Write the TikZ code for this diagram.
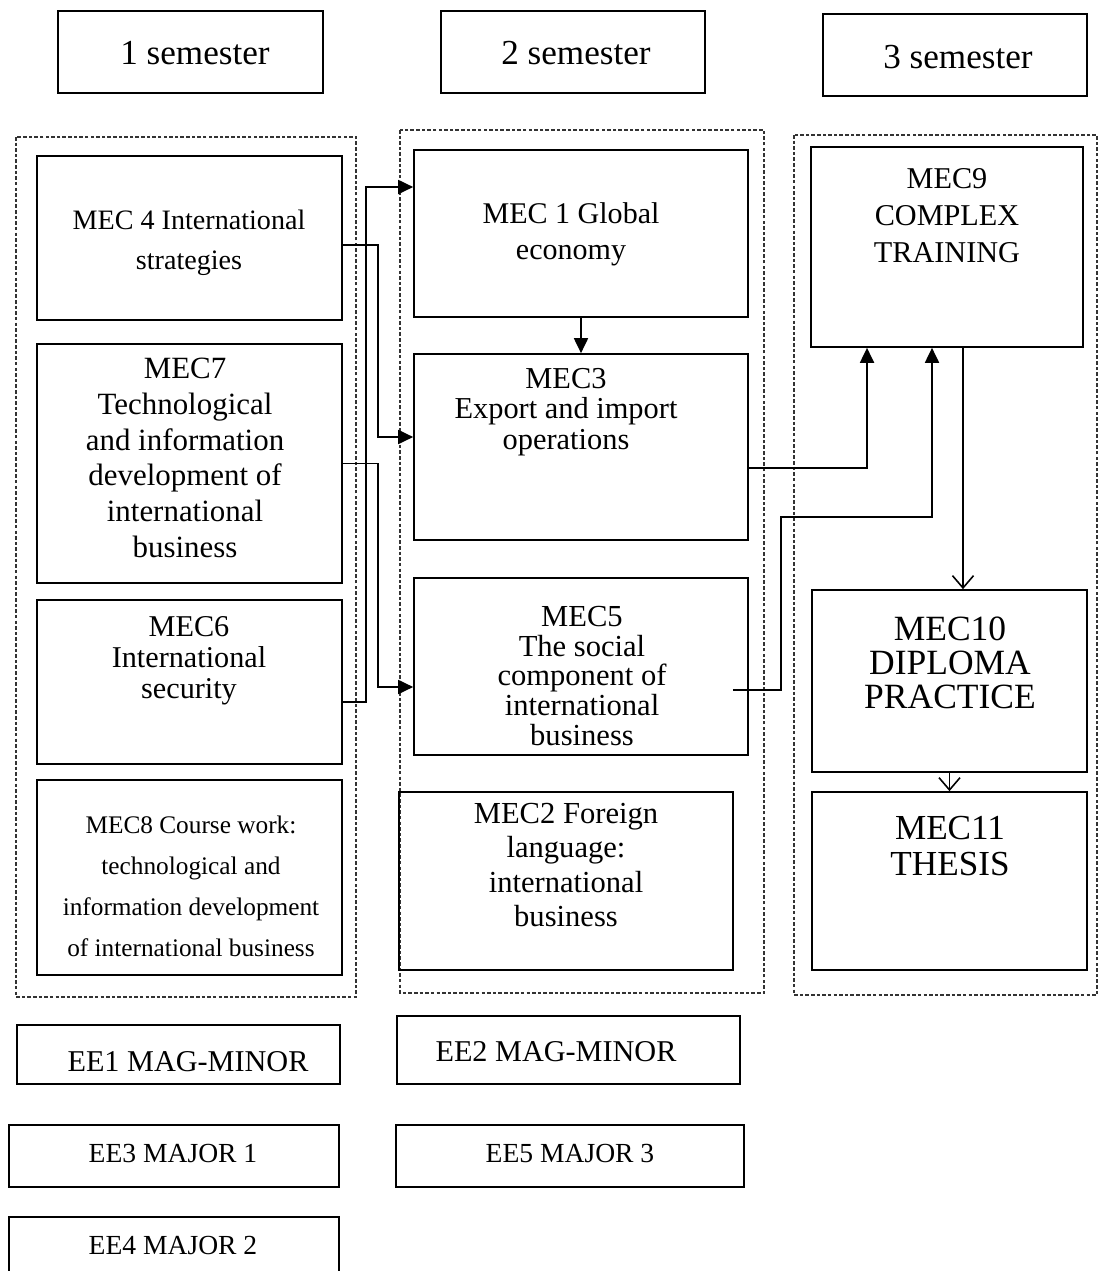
\documentclass[tikz,border=0pt]{standalone}
\usepackage{fontspec}
\setmainfont{Liberation Serif}
\usetikzlibrary{arrows.meta}
\newcommand{\fs}[2]{\fontsize{#1}{#2}\selectfont}

\tikzset{
  box/.style={draw, line width=1pt, inner sep=0pt},
  txt/.style={align=center, inner sep=0pt},
  grp/.style={draw, line width=0.8pt, dash pattern=on 2pt off 1.2pt, black!80},
  arr/.style={line width=0.9pt, -{Triangle[length=8.5pt,width=8pt]}},
  arrv/.style={line width=0.9pt, -{Straight Barb[length=7pt,width=12pt]}}
}

\begin{document}
\begin{tikzpicture}[x=0.02cm, y=-0.02cm]
\useasboundingbox (0,0) rectangle (1098,1271);

% semester headers
\node[box, minimum width=5.3cm, minimum height=1.64cm] (sem1) at (190.5,52) {};
\node[box, minimum width=5.28cm, minimum height=1.64cm] (sem2) at (573,52) {};
\node[box, minimum width=5.28cm, minimum height=1.64cm] (sem3) at (955,55) {};
\node[txt, font=\fs{20pt}{24pt}] at (195,53) {1 semester};
\node[txt, font=\fs{20pt}{24pt}] at (576,53) {2 semester};
\node[txt, font=\fs{20pt}{24pt}] at (958,57) {3 semester};

% dashed groups
\draw[grp] (16,137) rectangle (356,997);
\draw[grp] (400,130) rectangle (764,993);
\draw[grp] (794,135) rectangle (1097,995);

% first semester
\node[box, minimum width=6.1cm, minimum height=3.28cm] (mec4) at (189.5,238) {};
\node[box, minimum width=6.1cm, minimum height=4.78cm] (mec7) at (189.5,463.5) {};
\node[box, minimum width=6.1cm, minimum height=3.28cm] (mec6) at (189.5,682) {};
\node[box, minimum width=6.1cm, minimum height=3.9cm] (mec8) at (189.5,877.5) {};
\node[txt, font=\fs{16pt}{22.8pt}] (mec4t) at (189,243) {MEC 4 International\\strategies};
\node[txt, font=\fs{17.6pt}{20.3pt}] (mec7t) at (185,458) {MEC7\\Technological\\and information\\development of\\international\\business};
\node[txt, font=\fs{17.2pt}{17.6pt}] (mec6t) at (189,661) {MEC6\\International\\security};
\node[txt, font=\fs{14.4pt}{23.3pt}] (mec8t) at (191,886) {MEC8 Course work:\\technological and\\information development\\of international business};

% second semester
\node[box, minimum width=6.68cm, minimum height=3.34cm] (mec1) at (581,233.5) {};
\node[box, minimum width=6.68cm, minimum height=3.72cm] (mec3) at (581,447) {};
\node[box, minimum width=6.68cm, minimum height=3.54cm] (mec5) at (581,666.5) {};
\node[box, minimum width=6.68cm, minimum height=3.56cm] (mec2) at (566,881) {};
\node[txt, font=\fs{17.1pt}{20.5pt}] (mec1t) at (571,234) {MEC 1 Global\\economy};
\node[txt, font=\fs{17.3pt}{17.4pt}] (mec3t) at (566,412) {MEC3\\Export and import\\operations};
\node[txt, font=\fs{17.4pt}{16.8pt}] (mec5t) at (582,676) {MEC5\\The social\\component of\\international\\business};
\node[txt, font=\fs{17.4pt}{19.5pt}] (mec2t) at (566,865) {MEC2 Foreign\\language:\\international\\business};

% third semester
\node[box, minimum width=5.44cm, minimum height=4cm] (mec9) at (947,247) {};
\node[box, minimum width=5.5cm, minimum height=3.64cm] (mec10) at (949.5,681) {};
\node[box, minimum width=5.5cm, minimum height=3.56cm] (mec11) at (949.5,881) {};
\node[txt, font=\fs{17.2pt}{21pt}] (mec9t) at (947,216) {MEC9\\COMPLEX\\TRAINING};
\node[txt, font=\fs{20.2pt}{19.3pt}] (mec10t) at (950,663) {MEC10\\DIPLOMA\\PRACTICE};
\node[txt, font=\fs{20pt}{20pt}] (mec11t) at (950,846) {MEC11\\THESIS};

% elective blocks
\node[box, minimum width=6.46cm, minimum height=1.18cm] (ee1) at (178.5,1054.5) {};
\node[box, minimum width=6.86cm, minimum height=1.36cm] (ee2) at (568.5,1050) {};
\node[box, minimum width=6.6cm, minimum height=1.24cm] (ee3) at (174,1156) {};
\node[box, minimum width=6.96cm, minimum height=1.24cm] (ee5) at (570,1156) {};
\node[box, minimum width=6.6cm, minimum height=1.26cm] (ee4) at (174,1248.5) {};
\node[txt, font=\fs{17.2pt}{20pt}] at (188,1062) {EE1 MAG-MINOR};
\node[txt, font=\fs{17.2pt}{20pt}] at (556,1052) {EE2 MAG-MINOR};
\node[txt, font=\fs{15.7pt}{19pt}] at (173,1153) {EE3 MAJOR 1};
\node[txt, font=\fs{15.7pt}{19pt}] at (570,1153) {EE5 MAJOR 3};
\node[txt, font=\fs{15.7pt}{19pt}] at (173,1245) {EE4 MAJOR 2};

% connectors
\draw[arr] ([yshift=-0.4cm]mec6.east) -- ++(23,0) |- ([yshift=0.93cm]mec1.west);
\draw[arr] ([yshift=-0.14cm]mec4.east) -- ++(35,0) |- ([yshift=0.2cm]mec3.west);
\draw[arr] (mec7.east) -- ++(35,0) |- ([yshift=-0.41cm]mec5.west);
\draw[arr] (mec1) -- (mec3);
\draw[arr] ([yshift=-0.42cm]mec3.east) -| ([xshift=-1.6cm]mec9.south);
\draw[arr] ([xshift=-0.32cm,yshift=-0.47cm]mec5.east) -- ++(48,0) -- ++(0,-173) -| ([xshift=-0.3cm]mec9.south);
\draw[arrv] ([xshift=0.32cm]mec9.south) -- ([xshift=0.32cm]mec9.south |- mec10.north);
\draw[arrv] (mec10) -- (mec11);
\end{tikzpicture}
\end{document}
